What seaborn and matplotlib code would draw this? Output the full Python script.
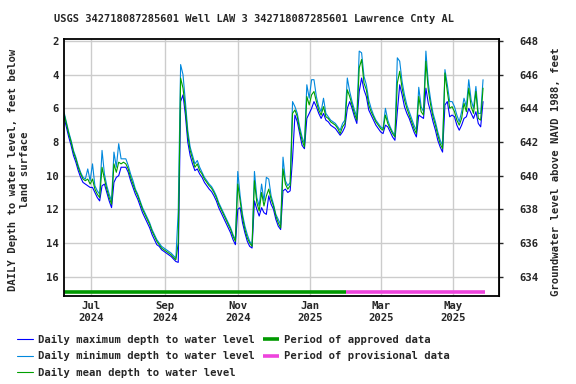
import pandas as pd
import matplotlib
import matplotlib.pyplot as plt
import matplotlib.dates as mdates
import seaborn as sns

matplotlib.use('Agg')

# Readings every 2 days starting 2024-06-08 (depth below land surface, feet)
start_date = '2024-06-08'

mean_depth = [
    6.3, 6.9, 7.5, 8.0, 8.6, 9.0, 9.5, 9.9, 10.2, 10.3,
    10.2, 10.5, 10.2, 10.8, 11.1, 11.3, 9.5, 10.2, 10.8, 11.3,
    11.7, 9.3, 9.8, 9.2, 9.3, 9.2, 9.3, 9.6, 10.1, 10.5,
    10.9, 11.2, 11.6, 12.0, 12.3, 12.6, 12.9, 13.3, 13.6, 13.9,
    14.1, 14.3, 14.4, 14.5, 14.6, 14.7, 14.85, 15.0, 14.0, 4.2,
    4.8, 6.0, 7.6, 8.5, 9.0, 9.5, 9.3, 9.7, 9.9, 10.2,
    10.4, 10.6, 10.75, 11.0, 11.3, 11.7, 12.0, 12.3, 12.6, 12.9,
    13.2, 13.6, 13.9, 10.5, 11.5, 12.5, 13.2, 13.7, 14.0, 14.2,
    10.3, 11.6, 12.1, 11.0, 11.8, 11.2, 10.8, 11.4, 11.8, 12.4,
    12.8, 13.1, 9.6, 10.5, 10.8, 10.6, 6.3, 6.1, 6.5, 7.3,
    7.9, 8.3, 5.3, 5.8, 5.2, 5.0, 5.6, 6.1, 6.4, 5.9,
    6.5, 6.6, 6.8, 6.9, 7.0, 7.2, 7.5, 7.1, 6.9, 4.9,
    5.3, 5.8, 6.3, 6.7, 3.6, 3.1, 4.5, 4.9, 5.8, 6.2,
    6.5, 6.8, 7.0, 7.2, 7.3, 6.4, 6.9, 7.2, 7.5, 7.7,
    4.5, 3.8, 4.8, 5.5, 6.0, 6.4, 6.8, 7.2, 7.5, 5.3,
    6.2, 6.4, 3.2, 4.9, 5.8, 6.5, 7.0, 7.6, 8.1, 8.4,
    3.9, 5.0, 6.0, 5.9, 6.2, 6.7, 7.0, 6.6, 5.7, 6.2,
    4.8, 5.9, 6.3, 5.0, 6.6, 6.7, 4.8,
]

max_depth = [
    6.5, 7.1, 7.7, 8.2, 8.8, 9.2, 9.7, 10.1, 10.4, 10.5,
    10.6, 10.7, 10.7, 11.0, 11.3, 11.5, 10.6, 10.5, 11.0, 11.5,
    11.9, 10.4, 10.1, 10.0, 9.5, 9.5, 9.5, 9.8, 10.3, 10.7,
    11.1, 11.4, 11.8, 12.2, 12.5, 12.8, 13.1, 13.5, 13.8, 14.1,
    14.2, 14.4, 14.5, 14.6, 14.7, 14.8, 14.95, 15.1, 15.15, 5.6,
    5.2, 6.4, 8.0, 8.8, 9.3, 9.7, 9.6, 9.9, 10.1, 10.4,
    10.6, 10.8, 10.95, 11.2, 11.5, 11.9, 12.2, 12.5, 12.8, 13.1,
    13.4, 13.8, 14.1, 12.0, 11.9, 12.8, 13.4, 13.9, 14.2, 14.3,
    11.5, 12.0, 12.4, 11.9, 12.2, 12.3, 11.2, 11.7, 12.0, 12.6,
    13.0, 13.2, 10.9, 10.8, 11.0, 10.9, 9.0, 6.4, 6.8, 7.5,
    8.2, 8.4, 6.6, 6.3, 6.0, 5.6, 5.9, 6.3, 6.6, 6.3,
    6.7, 6.8, 7.0, 7.1, 7.2, 7.4, 7.6, 7.4, 7.1, 6.0,
    5.6, 6.0, 6.5, 6.9, 5.0, 4.2, 4.9, 5.3, 6.1, 6.4,
    6.7, 7.0, 7.2, 7.4, 7.5, 7.0, 7.1, 7.4, 7.7, 7.9,
    6.2, 4.6, 5.2, 5.9, 6.3, 6.6, 7.0, 7.4, 7.7, 6.4,
    6.5, 6.6, 4.8, 5.7, 6.2, 6.8, 7.3, 7.9, 8.3, 8.6,
    5.8, 5.6, 6.5, 6.4, 6.5, 7.0, 7.3, 7.0, 6.6, 6.5,
    6.0, 6.3, 6.6, 6.2, 6.9, 7.1, 5.6,
]

min_depth = [
    6.2, 6.8, 7.4, 7.9, 8.5, 8.9, 9.4, 9.8, 10.1, 10.2,
    9.6, 10.3, 9.3, 10.6, 10.9, 11.1, 8.5, 9.9, 10.6, 11.1,
    11.5, 8.6, 9.5, 8.1, 9.0, 9.0, 9.0, 9.4, 9.9, 10.3,
    10.8, 11.1, 11.5, 11.9, 12.2, 12.5, 12.8, 13.2, 13.5, 13.8,
    14.0, 14.2, 14.3, 14.4, 14.5, 14.6, 14.75, 14.9, 12.1, 3.4,
    4.0, 5.6, 7.3, 8.3, 8.8, 9.3, 9.1, 9.5, 9.8, 10.1,
    10.3, 10.5, 10.65, 10.9, 11.2, 11.6, 11.9, 12.2, 12.5, 12.8,
    13.1, 13.5, 13.8, 9.75, 11.2, 12.3, 13.0, 13.5, 13.9, 14.1,
    9.75, 11.3, 11.8, 10.5, 11.5, 10.1, 10.2, 11.2, 11.7, 12.3,
    12.6, 12.9, 8.9, 10.3, 10.6, 10.4, 5.6, 5.9, 6.3, 7.1,
    7.7, 8.1, 4.6, 5.4, 4.3, 4.3, 5.3, 5.9, 6.2, 5.4,
    6.3, 6.5, 6.7, 6.8, 6.9, 7.1, 7.3, 6.9, 6.7, 4.2,
    5.0, 5.6, 6.1, 6.5, 2.6, 2.7, 4.1, 4.6, 5.5, 6.0,
    6.4, 6.7, 6.9, 7.1, 7.2, 6.0, 6.7, 7.1, 7.4, 7.6,
    3.0, 3.2, 4.4, 5.2, 5.8, 6.2, 6.6, 7.0, 7.3, 4.75,
    5.9, 6.2, 2.6, 4.5, 5.5, 6.3, 6.8, 7.4, 7.9, 8.2,
    3.7, 4.6, 5.6, 5.6, 5.9, 6.4, 6.8, 6.2, 5.4, 5.9,
    4.3, 5.5, 6.0, 4.7, 6.3, 6.3, 4.3,
]

# Data approval periods
approved_period = ['2024-06-08', '2025-01-31']
provisional_period = ['2025-01-31', '2025-05-28']
period_depth = 16.9

title = 'USGS 342718087285601 Well LAW 3 342718087285601 Lawrence Cnty AL'

sns.set_style('white')
plt.rcParams['font.family'] = ['DejaVu Sans Mono']
plt.rcParams['font.weight'] = 'bold'

dates = pd.date_range(start_date, periods=len(mean_depth), freq='2D')
df = pd.DataFrame({'date': dates, 'max': max_depth, 'min': min_depth, 'mean': mean_depth})

fig = plt.figure(figsize=(5.76, 3.84), dpi=100)
ax = fig.add_axes([0.111, 0.23, 0.7545, 0.6685])

sns.lineplot(data=df, x='date', y='max', ax=ax, color='#0000ff', lw=0.8,
             label='Daily maximum depth to water level')
sns.lineplot(data=df, x='date', y='min', ax=ax, color='#0088dd', lw=0.8,
             label='Daily minimum depth to water level')
sns.lineplot(data=df, x='date', y='mean', ax=ax, color='#00a000', lw=0.8,
             label='Daily mean depth to water level')

ax.plot(pd.to_datetime(approved_period), [period_depth] * 2, color='#009900', lw=2.6,
        solid_capstyle='butt', label='Period of approved data')
ax.plot(pd.to_datetime(provisional_period), [period_depth] * 2, color='#ee44dd', lw=2.6,
        solid_capstyle='butt', label='Period of provisional data')

ax.set_xlim(pd.Timestamp('2024-06-08'), pd.Timestamp('2025-06-08'))
ax.set_ylim(17.13, 1.88)
ax.set_yticks([2, 4, 6, 8, 10, 12, 14, 16])
ax.xaxis.set_major_locator(mdates.MonthLocator(bymonth=[1, 3, 5, 7, 9, 11]))
ax.xaxis.set_major_formatter(mdates.DateFormatter('%b\n%Y'))
ax.grid(True, color='#cccccc', lw=1)
ax.tick_params(axis='both', length=0, labelsize=7.7, pad=4)
ax.set_xlabel('')
ax.set_ylabel('')
for s in ax.spines.values():
    s.set_color('black')
    s.set_linewidth(1.3)

sec = ax.secondary_yaxis('right', functions=(lambda d: 650 - d, lambda e: 650 - e))
sec.set_yticks([634, 636, 638, 640, 642, 644, 646, 648])
sec.tick_params(axis='y', length=3, width=1, labelsize=7.7, pad=12)

handles, labels = ax.get_legend_handles_labels()
ax.get_legend().remove()
leg = fig.legend(handles, labels, loc='upper left', bbox_to_anchor=(17 / 576, 1 - 335 / 384),
                 ncol=2, frameon=False, fontsize=7.6, handlelength=1.5, handletextpad=0.5,
                 columnspacing=0.8, labelspacing=0.6, borderpad=0, borderaxespad=0)

fig.text(254 / 576, 1 - 19 / 384, title, ha='center', va='center', fontsize=7.5)
fig.text(19 / 576, 1 - 170 / 384, 'DAILY Depth to water level, feet below\nland surface',
         rotation=90, ha='center', va='center', fontsize=7.6, linespacing=1.3,
         multialignment='center')
fig.text(556 / 576, 1 - 172 / 384, 'Groundwater level above NAVD 1988, feet',
         rotation=90, ha='center', va='center', fontsize=7.6)

plt.savefig('out.png', dpi=100)
plt.close()
